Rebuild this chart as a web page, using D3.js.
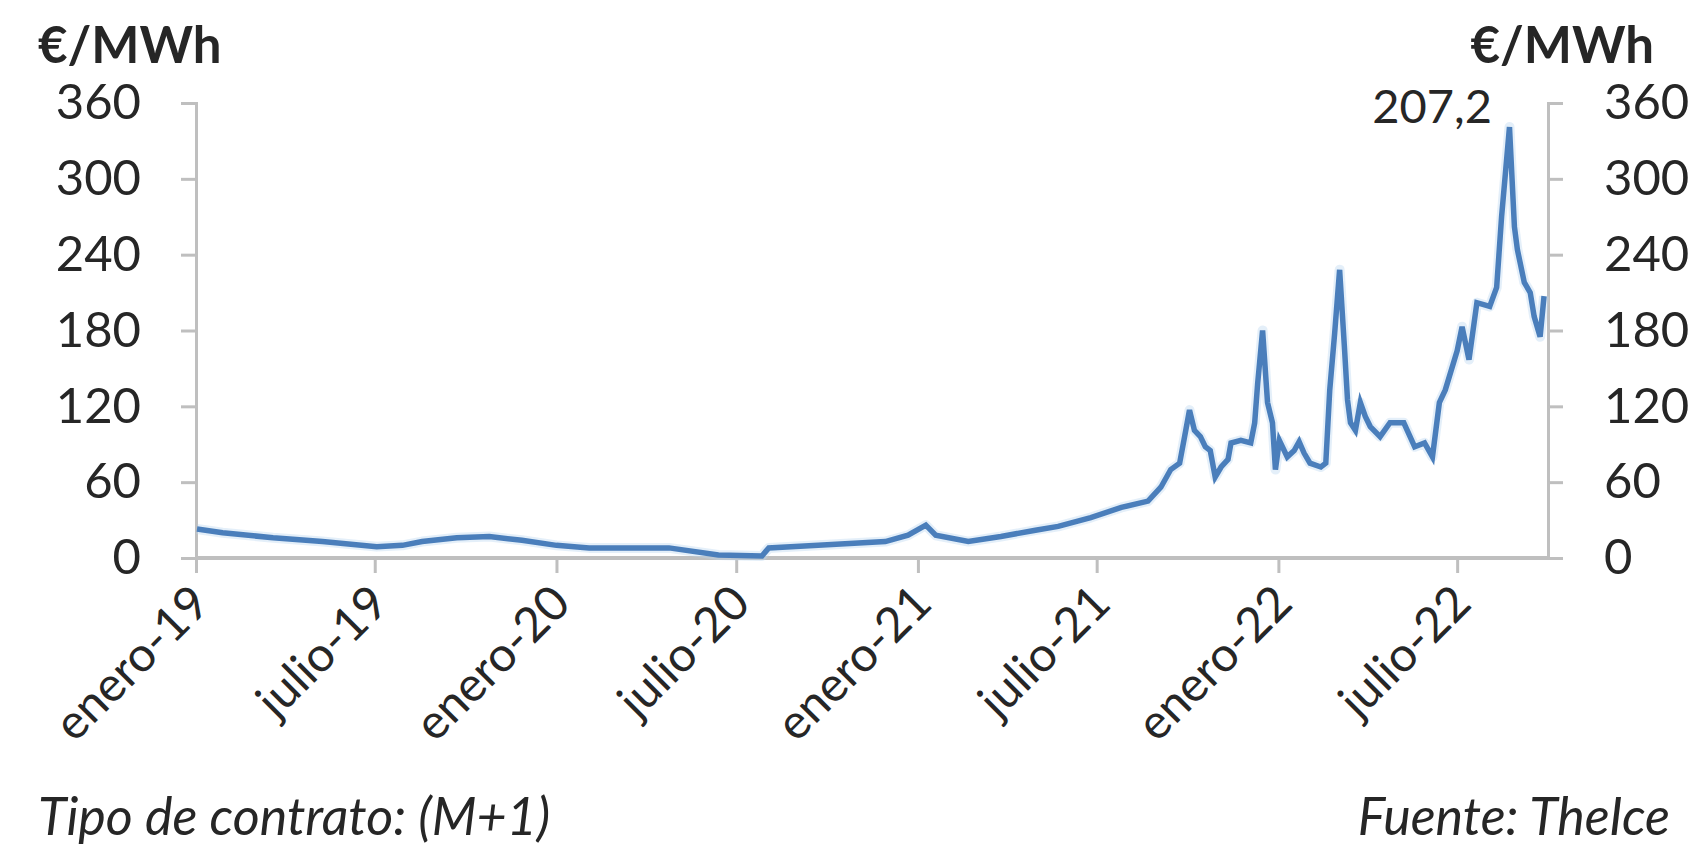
<!DOCTYPE html>
<html>
<head>
<meta charset="utf-8">
<script src="https://cdn.jsdelivr.net/npm/d3@7"></script>
<style>
  html, body { margin: 0; padding: 0; background: #ffffff; }
  svg { display: block; }
  text { font-family: Lato, "Open Sans", sans-serif; fill: #262626; }
</style>
</head>
<body>
<svg id="chart" width="1706" height="853"></svg>
<script>
// ---- Data ----
const dates = [
  "2019-01-02","2019-01-28","2019-03-20","2019-05-09","2019-07-03","2019-07-29","2019-08-18",
  "2019-09-22","2019-10-25","2019-11-27","2020-01-01","2020-02-03","2020-03-14","2020-04-24",
  "2020-06-13","2020-07-27","2020-08-03","2020-09-22","2020-11-29","2020-12-22","2021-01-09",
  "2021-01-19","2021-02-21","2021-03-26","2021-04-30","2021-05-23","2021-06-25","2021-07-26",
  "2021-08-22",
  "2021-09-04","2021-09-14","2021-09-23","2021-09-28","2021-10-03","2021-10-08","2021-10-14",
  "2021-10-19","2021-10-24","2021-10-29","2021-11-04","2021-11-11","2021-11-14","2021-11-24",
  "2021-12-04","2021-12-08","2021-12-11","2021-12-16","2021-12-21","2021-12-26","2021-12-29",
  "2022-01-02","2022-01-10","2022-01-17","2022-01-22","2022-01-27","2022-02-02","2022-02-13",
  "2022-02-18","2022-02-22","2022-02-27","2022-03-04","2022-03-09","2022-03-12","2022-03-15",
  "2022-03-20","2022-03-25","2022-03-30","2022-04-04","2022-04-14","2022-04-24","2022-05-08",
  "2022-05-19","2022-05-29","2022-06-06","2022-06-13","2022-06-19",
  "2022-07-01","2022-07-06","2022-07-13","2022-07-21","2022-08-03","2022-08-10","2022-08-15",
  "2022-08-23","2022-08-28","2022-08-31","2022-09-07","2022-09-13","2022-09-17","2022-09-23",
  "2022-09-27"
];
const prices = [
  23, 20, 16, 13, 9, 10, 13,
  16, 17, 14, 10, 8, 8, 8,
  2.4, 1.6, 8, 10, 13, 18, 26,
  18, 13, 17, 22, 25, 32, 40,
  45,
  56, 70, 75, 96, 117, 101, 96,
  88, 85, 64, 72, 78, 91, 93,
  91, 107, 138, 180, 123, 107, 70,
  93, 80, 85, 92, 83, 75, 72,
  75, 133, 178, 228, 165, 125, 107,
  101, 123, 112, 104, 96, 107, 107,
  88, 91, 80, 123, 133,
  164, 183, 157, 202, 199, 214, 270,
  341, 262, 244, 218, 210, 191, 175,
  207.2
];
const yTicks = [0, 60, 120, 180, 240, 300, 360];
const xTickDates = ["2019-01-01","2019-07-01","2020-01-01","2020-07-01","2021-01-01","2021-07-01","2022-01-01","2022-07-01"];
const xTickLabels = ["enero-19","julio-19","enero-20","julio-20","enero-21","julio-21","enero-22","julio-22"];
const unitLabel = "€/MWh";
const lastValueLabel = "207,2";
const footLeft = "Tipo de contrato: (M+1)";
const footRight = "Fuente: TheIce";
const xDomain = ["2019-01-01", "2022-10-01"];

// ---- Layout ----
const parse = d3.utcParse("%Y-%m-%d");
const plotL = 196, plotR = 1548, plotT = 103, plotB = 558;
const axisColor = "#bfbfbf";
const lineColor = "#4a7ebb";

const svg = d3.select("#chart");

const x = d3.scaleUtc().domain(xDomain.map(parse)).range([plotL, plotR]);
const y = d3.scaleLinear().domain([0, 360]).range([plotB, plotT]);

const data = dates.map((d, i) => ({ date: parse(d), value: prices[i] }));

// Left axis
const gL = svg.append("g").attr("transform", `translate(${plotL},0)`)
  .call(d3.axisLeft(y).tickValues(yTicks).tickSize(15).tickPadding(40).tickFormat(d3.format("d")));
// Right axis
const gR = svg.append("g").attr("transform", `translate(${plotR},0)`)
  .call(d3.axisRight(y).tickValues(yTicks).tickSize(15).tickPadding(41).tickFormat(d3.format("d")));
[gL, gR].forEach(g => {
  g.select(".domain").attr("stroke", axisColor).attr("stroke-width", 3);
  g.selectAll(".tick line").attr("stroke", axisColor).attr("stroke-width", 3);
  g.selectAll(".tick text").style("font-size", "49px").attr("fill", "#262626")
    .style("font-family", 'Lato, sans-serif');
});

// Bottom axis
const gB = svg.append("g").attr("transform", `translate(0,${plotB})`)
  .call(d3.axisBottom(x).tickValues(xTickDates.map(parse)).tickSize(15)
    .tickFormat((d, i) => xTickLabels[i]));
gB.select(".domain").attr("stroke", axisColor).attr("stroke-width", 4)
  .attr("d", `M${plotL},0H${plotR}`);
gB.selectAll(".tick line").attr("stroke", axisColor).attr("stroke-width", 3);
gB.selectAll(".tick text")
  .style("font-size", "48px")
  .style("font-family", 'Lato, sans-serif')
  .attr("fill", "#262626")
  .attr("text-anchor", "end")
  .attr("dy", "0.7em")
  .attr("y", 0)
  .attr("transform", "translate(-8,24) rotate(-45)");

// Line
const line = d3.line().x(d => x(d.date)).y(d => y(d.value));
svg.append("path").datum(data)
  .attr("d", line)
  .attr("fill", "none")
  .attr("stroke", "#bcd6f0")
  .attr("stroke-width", 10)
  .attr("stroke-opacity", 0.4)
  .attr("stroke-linejoin", "round");
svg.append("path").datum(data)
  .attr("d", line)
  .attr("fill", "none")
  .attr("stroke", lineColor)
  .attr("stroke-width", 5.5)
  .attr("stroke-linejoin", "miter");

// Unit labels
svg.append("text").attr("x", 38).attr("y", 63).text(unitLabel)
  .style("font-size", "51px").style("font-weight", "bold").attr("fill", "#1a1a1a");
svg.append("text").attr("x", 1654).attr("y", 63).attr("text-anchor", "end").text(unitLabel)
  .style("font-size", "51px").style("font-weight", "bold").attr("fill", "#1a1a1a");

// Last value annotation
const last = data[data.length - 1];
svg.append("text").attr("x", x(last.date) - 52).attr("y", 123).attr("text-anchor", "end")
  .text(lastValueLabel).style("font-size", "47px").attr("fill", "#333");

// Footer
svg.append("text").attr("x", 38).attr("y", 835).text(footLeft)
  .style("font-size", "52px").style("font-style", "italic").attr("fill", "#262626");
svg.append("text").attr("x", 1670).attr("y", 835).attr("text-anchor", "end").text(footRight)
  .style("font-size", "52px").style("font-style", "italic").attr("fill", "#262626");
</script>
</body>
</html>
